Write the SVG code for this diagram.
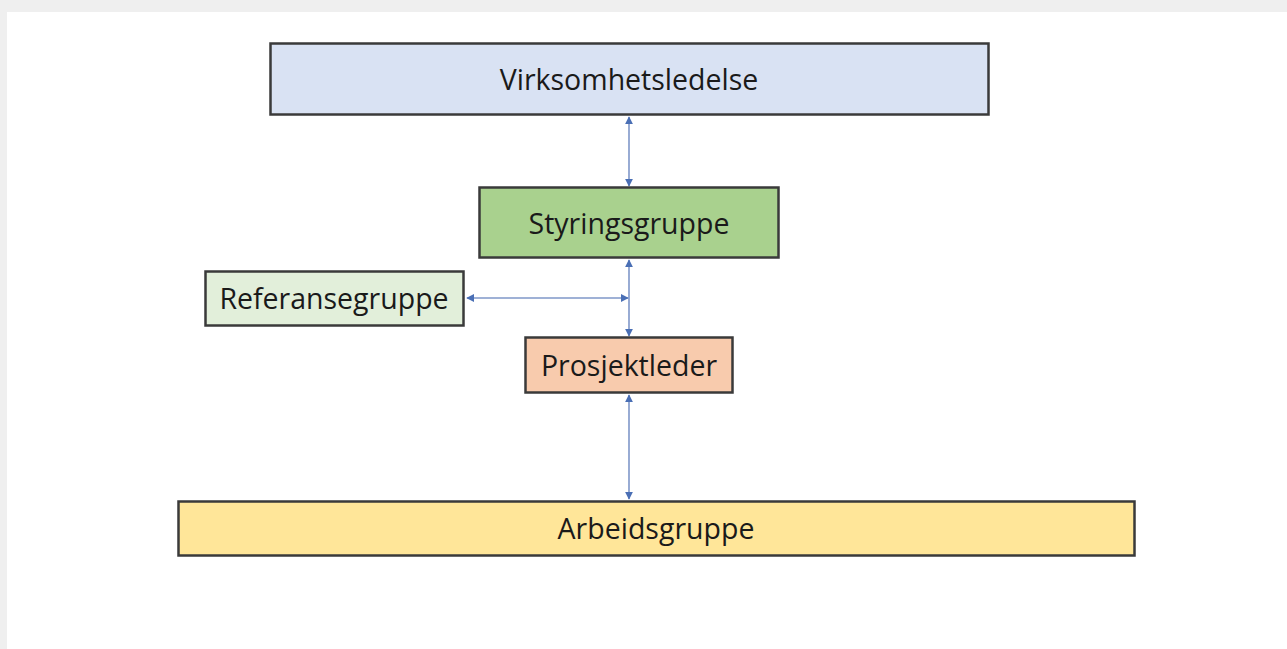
<svg xmlns="http://www.w3.org/2000/svg" width="1287" height="649" viewBox="0 0 1287 649">
<style>
.box{stroke:#3a3a3a;stroke-width:2.5}
.lbl{font-family:"Open Sans","Liberation Sans",sans-serif;font-size:28.5px;fill:#1a1a1a;text-anchor:middle;dominant-baseline:central}
.con{stroke:#7f97c9;stroke-width:1.6;fill:none}
</style>
<defs>
<marker id="ah" viewBox="0 0 10 10" refX="9" refY="5" markerWidth="8" markerHeight="8" markerUnits="userSpaceOnUse" orient="auto-start-reverse">
<path d="M0,0 L10,5 L0,10 Z" fill="#4a6fb5"/>
</marker>
</defs>
<rect x="0" y="0" width="1287" height="649" fill="#efefef"/>
<rect x="7" y="12" width="1280" height="637" fill="#ffffff"/>
<g id="connectors">
<line class="con" x1="629" y1="117" x2="629" y2="186" marker-start="url(#ah)" marker-end="url(#ah)"/>
<line class="con" x1="629" y1="260" x2="629" y2="336" marker-start="url(#ah)" marker-end="url(#ah)"/>
<line class="con" x1="467" y1="298" x2="628" y2="298" marker-start="url(#ah)" marker-end="url(#ah)"/>
<line class="con" x1="629" y1="395" x2="629" y2="499" marker-start="url(#ah)" marker-end="url(#ah)"/>
</g>
<g id="virksomhetsledelse">
<rect class="box" x="270.5" y="43.5" width="718" height="71" fill="#d9e2f3"/>
<text class="lbl" x="629" y="79">Virksomhetsledelse</text>
</g>
<g id="styringsgruppe">
<rect class="box" x="479.5" y="187.5" width="299" height="70" fill="#a9d18e"/>
<text class="lbl" x="629" y="223">Styringsgruppe</text>
</g>
<g id="referansegruppe">
<rect class="box" x="205.5" y="271.5" width="258" height="54" fill="#e2efda"/>
<text class="lbl" x="334" y="298">Referansegruppe</text>
</g>
<g id="prosjektleder">
<rect class="box" x="525.5" y="337.5" width="207" height="55" fill="#f8cbad"/>
<text class="lbl" x="629" y="365">Prosjektleder</text>
</g>
<g id="arbeidsgruppe">
<rect class="box" x="178.5" y="501.5" width="956" height="54" fill="#ffe699"/>
<text class="lbl" x="656" y="528">Arbeidsgruppe</text>
</g>
</svg>
